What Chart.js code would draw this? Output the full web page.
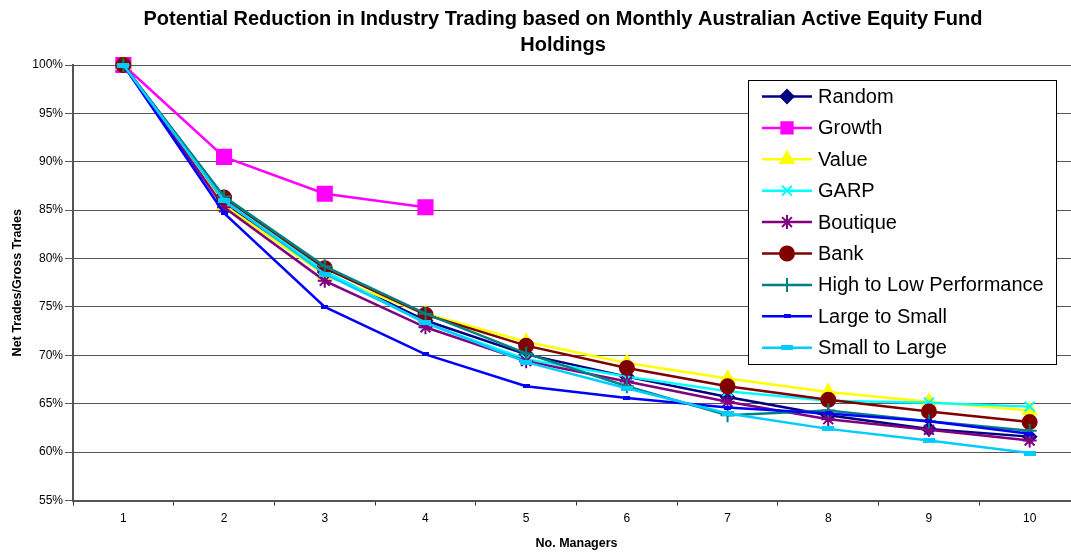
<!DOCTYPE html>
<html>
<head>
<meta charset="utf-8">
<script src="https://cdn.jsdelivr.net/npm/chart.js@4/dist/chart.umd.min.js"></script>
<style>
html,body{margin:0;padding:0;background:#fff;overflow:hidden;width:1071px;height:552px;}
#wrap{width:1080px;height:552px;}
</style>
</head>
<body>
<div id="wrap"><canvas id="c" width="1080" height="552"></canvas></div>
<script>
const titleLines = ["Potential Reduction in Industry Trading based on Monthly Australian Active Equity Fund", "Holdings"];
const xTitle = "No. Managers";
const yTitle = "Net Trades/Gross Trades";
const categories = ["1","2","3","4","5","6","7","8","9","10"];
const seriesNames = ["Random","Growth","Value","GARP","Boutique","Bank","High to Low Performance","Large to Small","Small to Large"];
const random      = [100, 85.6, 78.6, 73.6, 70.1, 67.8, 65.7, 63.8, 62.4, 61.6];
const growth      = [100, 90.5, 86.7, 85.3, null, null, null, null, null, null];
const value       = [100, 85.5, 78.3, 74.3, 71.4, 69.2, 67.6, 66.2, 65.2, 64.3];
const garp        = [100, 86.0, 78.7, 73.3, 69.6, 67.8, 66.3, 65.3, 65.1, 64.7];
const boutique    = [100, 85.3, 77.7, 72.9, 69.4, 67.3, 65.2, 63.4, 62.3, 61.2];
const bank        = [100, 86.3, 79.0, 74.2, 71.0, 68.7, 66.8, 65.4, 64.2, 63.1];
const highToLow   = [100, 86.4, 79.2, 74.3, 70.2, 66.8, 63.8, 64.3, 63.2, 62.2];
const largeToSmall= [100, 84.7, 75.0, 70.1, 66.8, 65.6, 64.6, 64.0, 63.2, 61.9];
const smallToLarge= [100, 86.0, 78.4, 73.4, 69.3, 66.6, 64.0, 62.4, 61.2, 59.9];
const yMin = 55, yMax = 100, yStep = 5;

function barMarker(w, h, color) {
  const c = document.createElement('canvas');
  c.width = w; c.height = h;
  const g = c.getContext('2d');
  g.fillStyle = color; g.fillRect(0, 0, w, h);
  return c;
}

const seriesData = [random, growth, value, garp, boutique, bank, highToLow, largeToSmall, smallToLarge];
const colors = ['#000080','#FF00FF','#FFFF00','#00FFFF','#800080','#800000','#008080','#0000FF','#00CCFF'];
const styles = ['rectRot','rect','triangle','crossRot','star','circle','cross',
  barMarker(7, 4, '#0000FF'), barMarker(12, 5, '#00CCFF')];
const radii = [6.5, 10, 7.5, 7, 7, 7, 7, 4, 6];

const datasets = seriesNames.map((n, i) => ({
  label: n,
  data: seriesData[i],
  borderColor: colors[i],
  backgroundColor: colors[i],
  pointBackgroundColor: colors[i],
  pointBorderColor: colors[i],
  pointStyle: styles[i],
  pointRadius: radii[i],
  pointHoverRadius: radii[i],
  pointBorderWidth: 2,
  borderWidth: 2.5,
  tension: 0,
  fill: false,
  clip: false,
  order: 9 - i
}));

const FONT = "'Liberation Sans', Arial, sans-serif";

const customTitle = {
  id: 'customTitle',
  afterDraw(chart) {
    const ctx = chart.ctx;
    ctx.save();
    ctx.font = "bold 20px " + FONT;
    ctx.fillStyle = '#000';
    ctx.textAlign = 'center';
    ctx.textBaseline = 'middle';
    ctx.fillText(titleLines[0], 563, 19);
    ctx.fillText(titleLines[1], 563, 45);
    ctx.restore();
  }
};

const boxLegend = {
  id: 'boxLegend',
  afterDatasetsDraw(chart) {
    const ctx = chart.ctx;
    const bx = 748, by = 80, bw = 308, bh = 284;
    ctx.save();
    ctx.fillStyle = '#fff';
    ctx.fillRect(bx, by, bw, bh);
    ctx.strokeStyle = '#000';
    ctx.lineWidth = 1;
    ctx.strokeRect(bx + 0.5, by + 0.5, bw, bh);
    chart.data.datasets.forEach((ds, i) => {
      const y = 96.5 + i * 31.4;
      ctx.strokeStyle = ds.borderColor;
      ctx.lineWidth = 2.5;
      ctx.beginPath();
      ctx.moveTo(762, y); ctx.lineTo(812, y);
      ctx.stroke();
      ctx.fillStyle = ds.pointBackgroundColor;
      ctx.strokeStyle = ds.pointBorderColor;
      ctx.lineWidth = ds.pointBorderWidth;
      Chart.helpers.drawPoint(ctx, {pointStyle: ds.pointStyle, radius: Math.min(ds.pointRadius, 8), borderWidth: ds.pointBorderWidth, rotation: 0}, 787, y);
      ctx.fillStyle = '#000';
      ctx.font = "20px " + FONT;
      ctx.textAlign = 'left';
      ctx.textBaseline = 'middle';
      ctx.fillText(ds.label, 818, y + 1);
    });
    ctx.restore();
  }
};

new Chart(document.getElementById('c'), {
  type: 'line',
  data: { labels: categories, datasets },
  options: {
    responsive: false,
    animation: false,
    events: [],
    layout: { autoPadding: false, padding: { top: 65, right: 0, left: 0, bottom: 0 } },
    plugins: { legend: { display: false }, title: { display: false }, tooltip: { enabled: false } },
    scales: {
      x: {
        type: 'category',
        offset: true,
        afterFit(s) { s.height = 51.5; s.paddingRight = 0; s.paddingLeft = 0; },
        grid: { offset: true, drawOnChartArea: false, drawTicks: true, tickLength: 5, color: '#333', lineWidth: 1 },
        border: { display: true, color: '#555', width: 2 },
        ticks: { font: { family: FONT, size: 12 }, color: '#000', padding: 6, maxRotation: 0 },
        title: { display: true, text: xTitle, font: { family: FONT, size: 12.5, weight: 'bold' }, color: '#000', padding: { top: 0, bottom: 1 } }
      },
      y: {
        min: yMin, max: yMax,
        afterFit(s) { s.width = 73; },
        grid: { color: '#555', lineWidth: 1, drawTicks: true, tickLength: 8 },
        border: { display: true, color: '#555', width: 2 },
        ticks: { stepSize: yStep, font: { family: FONT, size: 12 }, color: '#000', padding: 2,
          callback: v => v + '%' },
        title: { display: true, text: yTitle, font: { family: FONT, size: 12.5, weight: 'bold' }, color: '#000', padding: { top: 10.4, bottom: 0 } }
      }
    }
  },
  plugins: [customTitle, boxLegend]
});
</script>
</body>
</html>
